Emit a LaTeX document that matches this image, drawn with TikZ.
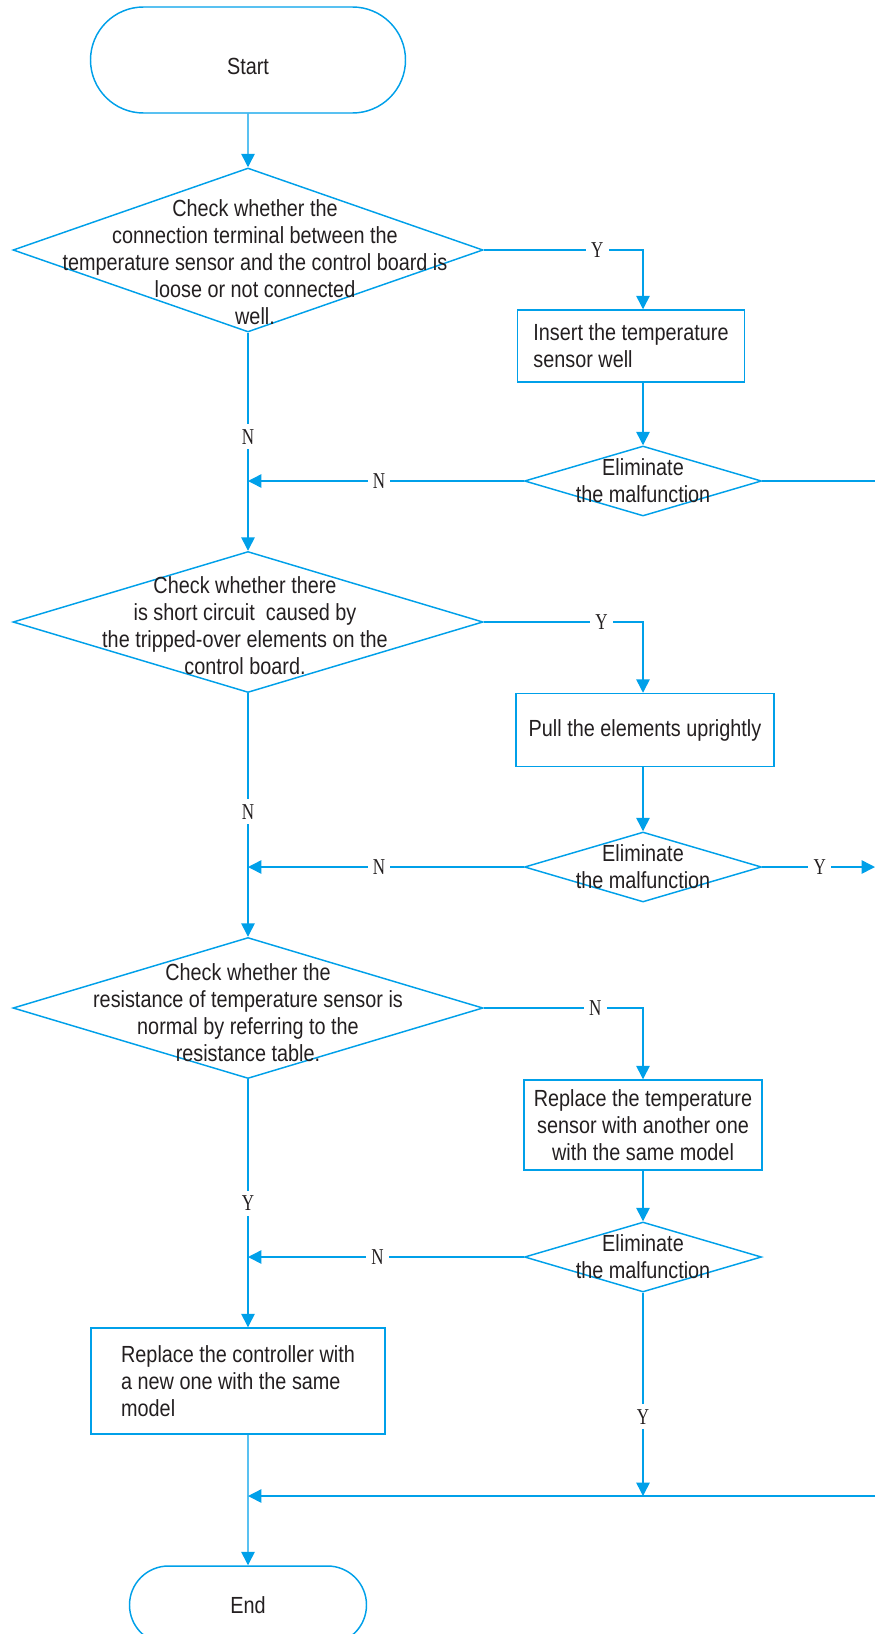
\documentclass[tikz,border=0pt]{standalone}
\usepackage{fontspec}
\setmainfont[FakeStretch=0.85]{Liberation Sans}
\newfontfamily\ynfont[FakeStretch=0.75]{Liberation Serif}
\usepackage{xcolor}
\definecolor{FlowBlue}{RGB}{0,160,233}
\definecolor{FlowText}{RGB}{35,31,32}
\usetikzlibrary{positioning, arrows.meta, shapes.geometric, shapes.misc}

\begin{document}
\begin{tikzpicture}[x=0.75pt, y=-0.75pt,
	every node/.style={text=FlowText, font=\fontsize{17.5}{20.25}\selectfont},
	term/.style={draw=FlowBlue, line width=1.1pt, rounded rectangle, inner sep=0pt},
	decision/.style={draw=FlowBlue, line width=1.1pt, diamond, inner sep=0pt, minimum width=177.75pt, minimum height=52.5pt},
	check/.style={decision, minimum width=352.5pt, minimum height=105.75pt},
	process/.style={draw=FlowBlue, line width=1.1pt, rectangle, inner sep=0pt},
	dtext/.style={align=center, inner sep=0pt},
	yn/.style={fill=white, inner sep=4pt, font=\ynfont\fontsize{17}{17}\selectfont},
	line/.style={draw=FlowBlue, line width=1.1pt},
	arr/.style={line, -{Triangle[length=10pt, width=10pt]}}]
	\useasboundingbox (0,0) rectangle (875,1634);
	% Start / End
	\node[term, minimum width=236.25pt, minimum height=79.5pt, text height=21.6pt] (start) at (248,60) {Start};
	\node[term, minimum width=177.75pt, minimum height=58.5pt] (stop) at (248,1605) {End};
	% First check
	\node[check, minimum height=123pt] (chk1) at (248,250) {};
	\node[dtext] (chk1-txt) at (255,262) {Check whether the\\connection terminal between the\\temperature sensor and the control board is\\loose or not connected\\well.};
	\node[process, minimum width=170.25pt, minimum height=54pt, align=left] (fix1) at (631,346) {Insert the temperature\\sensor well};
	\node[decision] (ok1) at (643,481) {};
	\node[dtext] (ok1-txt) at (ok1) {Eliminate\\the malfunction};
	% Second check
	\node[check] (chk2) at (248,622) {};
	\node[dtext] (chk2-txt) at (245,626) {Check whether there\\is short circuit\ \ caused by\\the tripped-over elements on the\\control board.};
	\node[process, minimum width=193.5pt, minimum height=54.75pt] (fix2) at (645,730) {Pull the elements uprightly};
	\node[decision] (ok2) at (643,867) {};
	\node[dtext] (ok2-txt) at (ok2) {Eliminate\\the malfunction};
	% Third check
	\node[check] (chk3) at (248,1008) {};
	\node[dtext] (chk3-txt) at (248,1013) {Check whether the\\resistance of temperature sensor is\\normal by referring to the\\resistance table.};
	\node[process, minimum width=178.5pt, minimum height=67.5pt, align=center] (fix3) at (643,1125) {Replace the temperature\\sensor with another one\\with the same model};
	\node[decision] (ok3) at (643,1257) {};
	\node[dtext] (ok3-txt) at (ok3) {Eliminate\\the malfunction};
	\node[process, minimum width=220.5pt, minimum height=79.5pt, align=left] (repl) at (238,1381) {Replace the controller with\\a new one with the same\\model};
	\coordinate (rim) at (875,0);
	\coordinate (join) at (248,1496);

	% Main line
	\draw[arr] (start) -- (chk1);
	\draw[arr] (chk1) -- node[yn, pos=0.477] (n1) {N} (chk2);
	\draw[arr] (chk2) -- node[yn, pos=0.486] (n2) {N} (chk3);
	\draw[arr] (chk3.south) -- node[yn, pos=0.5] (y3) {Y} (chk3.south |- repl.north);
	\draw[arr] (stop |- repl.south) -- (stop);
	% Branches
	\draw[arr] (chk1.east) -| node[yn, pos=0.356] (y1) {Y} (ok1 |- fix1.north);
	\draw[arr] (fix1.south -| ok1) -- (ok1.north);
	\draw[arr] (ok1.west) -- node[yn, pos=0.525] (n1b) {N} (chk1 |- ok1);
	\draw[line] (ok1.east) -- (ok1 -| rim);
	\draw[arr] (chk2.east) -| node[yn, pos=0.37] (y2) {Y} (ok2 |- fix2.north);
	\draw[arr] (fix2.south -| ok2) -- (ok2.north);
	\draw[arr] (ok2.west) -- node[yn, pos=0.525] (n2b) {N} (chk2 |- ok2);
	\draw[arr] (ok2.east) -- node[yn, pos=0.51] (y2b) {Y} (ok2 -| rim);
	\draw[arr] (chk3.east) -| node[yn, pos=0.35] (n3) {N} (fix3.north);
	\draw[arr] (fix3) -- (ok3);
	\draw[arr] (ok3.west) -- node[yn, pos=0.53] (n3b) {N} (chk3 |- ok3);
	\draw[arr] (ok3.south) -- node[yn, pos=0.61] (y3b) {Y} (ok3 |- join);
	\draw[arr] (join -| rim) -- (join);
\end{tikzpicture}
\end{document}
